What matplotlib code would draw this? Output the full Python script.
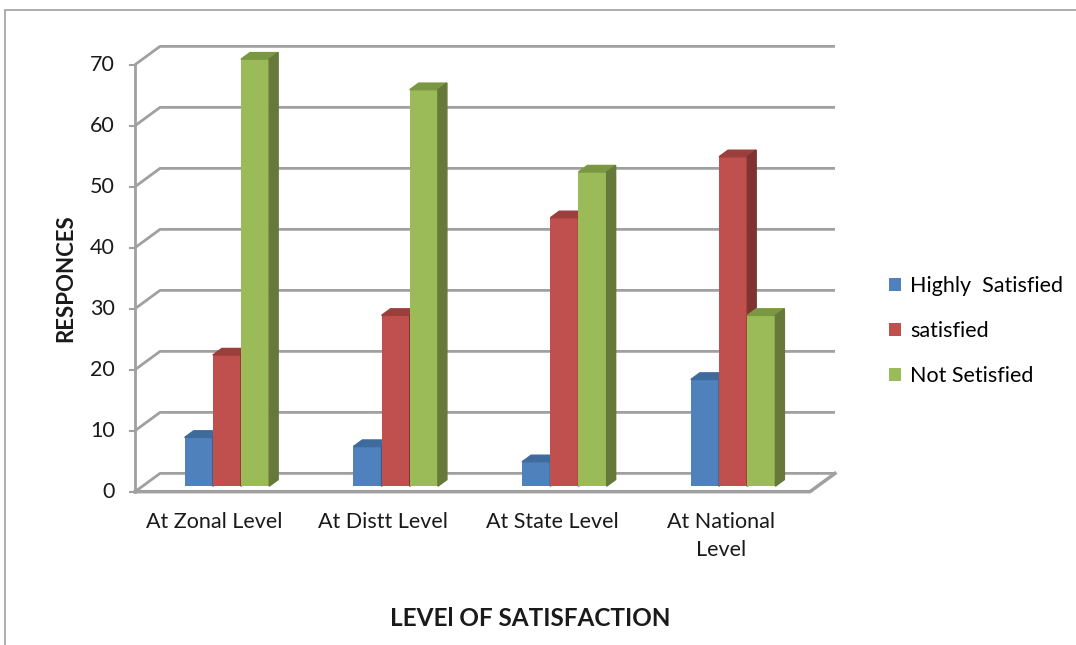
import matplotlib
matplotlib.use('Agg')
import matplotlib.pyplot as plt
from matplotlib.patches import Polygon, Rectangle

categories = ['At Zonal Level', 'At Distt Level', 'At State Level', 'At National\nLevel']
series_names = ['Highly  Satisfied', 'satisfied', 'Not Setisfied']
highly_satisfied = [8, 6.5, 4, 17.5]
satisfied = [21.5, 28, 44, 54]
not_satisfied = [70, 65, 51.5, 28]
y_ticks = [0, 10, 20, 30, 40, 50, 60, 70]

front_colors = ['#4F81BD', '#C0504D', '#9BBB59']
top_colors = ['#3F6A9C', '#9B3E3C', '#7A9842']
side_colors = ['#385D8A', '#7F3331', '#66793A']
grid_color = '#A0A0A0'
text_color = '#1A1A1A'

plt.rcParams['font.family'] = ['Lato', 'DejaVu Sans']

fig = plt.figure(figsize=(10.76, 6.45), dpi=100)
# one category = ~169 px, ten units = 61 px
ax = fig.add_axes([0.0863, 0.1904, 0.7449, 0.7850])
ax.set_xlim(-0.75, 4.0)
ax.set_ylim(-5, 78)
ax.set_axis_off()

# fake 3d depth (wall offset) in data units
DX, DY = 0.148, 3.0
x_left, x_right = -0.5, 3.5

# side wall + back wall gridlines
for v in y_ticks:
    ax.plot([x_left, x_left + DX, x_right + DX], [v, v + DY, v + DY],
            color=grid_color, lw=2, solid_capstyle='butt', zorder=1)
    ax.plot([x_left - 0.03, x_left], [v, v], color=grid_color, lw=1.5, zorder=1)
    ax.text(-0.62, v, str(v), ha='right', va='center', fontsize=15.5, color=text_color)

ax.plot([x_left, x_left], [0, y_ticks[-1]], color=grid_color, lw=2, zorder=1)
# floor edge
ax.plot([x_left, x_right, x_right + DX], [0, 0, DY], color=grid_color, lw=2.5, zorder=2)

# bars sit a bit behind the front edge, with their own depth
f, d = 0.3, 0.36
W = 0.167
for j, vals in enumerate([highly_satisfied, satisfied, not_satisfied]):
    xs = [i + f * DX + (j - 1) * W for i in range(len(categories))]
    base = f * DY
    ax.bar(xs, vals, width=W, bottom=base, color=front_colors[j],
           label=series_names[j], zorder=3 + j)
    for x, v in zip(xs, vals):
        x0, x1 = x - W / 2, x + W / 2
        yt = base + v
        ax.add_patch(Polygon([(x0, yt), (x1, yt), (x1 + d * DX, yt + d * DY),
                              (x0 + d * DX, yt + d * DY)],
                             closed=True, color=top_colors[j], zorder=3 + j))
        ax.add_patch(Polygon([(x1, base), (x1 + d * DX, base + d * DY),
                              (x1 + d * DX, yt + d * DY), (x1, yt)],
                             closed=True, color=side_colors[j], zorder=3 + j))

for i, cat in enumerate(categories):
    ax.text(i - 0.03, -3.4, cat, ha='center', va='top', fontsize=15.5,
            linespacing=1.45, color=text_color)

fig.text(66 / 1076, 1 - 278 / 645, 'RESPONCES', rotation=90, ha='center',
         va='center', fontsize=16, fontweight='bold', color=text_color)
fig.text(530 / 1076, 1 - 618 / 645, 'LEVEl OF SATISFACTION', ha='center',
         va='center', fontsize=17.5, fontweight='bold', color=text_color)

fig.legend(loc='center left', bbox_to_anchor=(870 / 1076, 1 - 331 / 645),
           frameon=False, fontsize=15.5, handlelength=0.55, handleheight=0.55,
           handletextpad=0.4, labelspacing=1.15)

# outer chart border
fig.add_artist(Rectangle((5 / 1076, -0.1), 1.2, 1.1 - 10 / 645,
                         transform=fig.transFigure, fill=False,
                         edgecolor='#A0A0A0', lw=1.2))

fig.savefig('out.png', dpi=100)
